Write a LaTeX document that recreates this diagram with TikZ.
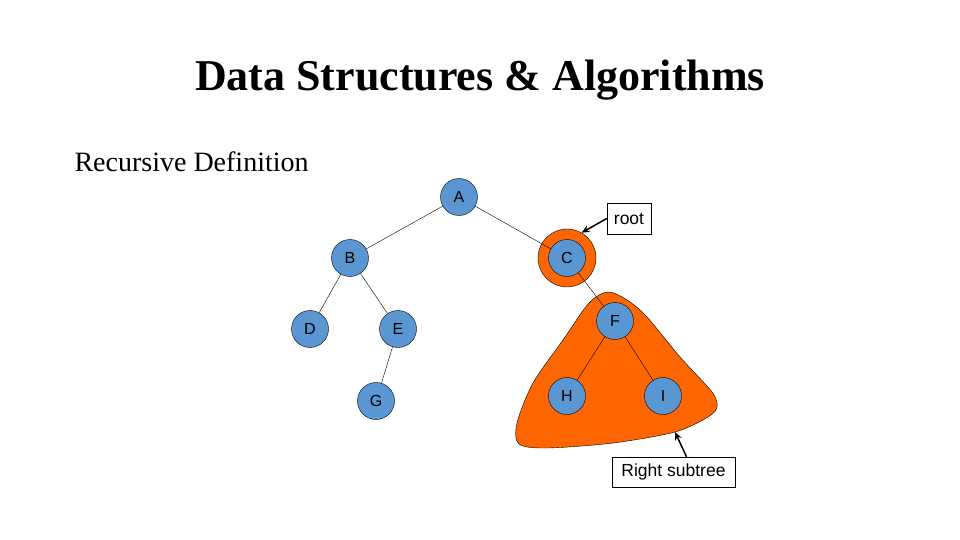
\documentclass[tikz,border=0pt]{standalone}
\usepackage{fontspec}
\setmainfont{Liberation Serif}
\newfontfamily\arial{Liberation Sans}
\usepackage{tikz,xcolor}
\usetikzlibrary{arrows.meta}

\definecolor{nodeblue}{RGB}{90,150,210}
\definecolor{subor}{RGB}{255,102,0}

\begin{document}
\begin{tikzpicture}[x=1pt, y=-1pt,
  vert/.style={draw, circle, fill=nodeblue, minimum size=37pt, inner sep=0pt, font=\arial\fontsize{16}{16}\selectfont},
  callout/.style={draw, fill=white, inner sep=0pt, font=\arial\fontsize{17.5}{18}\selectfont},
  pointer/.style={-{Stealth[length=8pt,width=7pt]}, line width=1.5pt}]

\useasboundingbox (0,0) rectangle (960,540);

% title
\node[font=\bfseries\fontsize{44}{46}\selectfont] (title) at (480,80) {Data Structures \& Algorithms};
\node[anchor=west, font=\fontsize{28}{30}\selectfont] (sub) at (71,162) {Recursive Definition};

% right subtree and root marks
\draw[fill=subor] plot[smooth cycle, tension=0.5] coordinates {(608,292) (627,300) (647,317) (680,357) (712,392) (717,407) (708,417) (675,432) (613,443) (547,448) (519,444) (517,423) (533,383) (563,340) (589,303)};
\node[draw, circle, fill=subor, minimum size=58pt] (ring) at (567,258) {};

% nodes
\node[vert] (A) at (459,197) {A};
\node[vert] (B) at (350,258) {B};
\node[vert] (C) at (567,258) {C};
\node[vert] (D) at (310,329) {D};
\node[vert] (E) at (398,329) {E};
\node[vert] (F) at (615,321) {F};
\node[vert] (G) at (376,401) {G};
\node[vert] (H) at (567,396) {H};
\node[vert] (I) at (663,396) {I};

% edges
\draw (A) -- (B);
\draw (A) -- (C);
\draw (B) -- (D);
\draw (B) -- (E);
\draw (E) -- (G);
\draw (C) -- (F);
\draw (F) -- (H);
\draw (F) -- (I);

% labels
\node[callout, minimum width=44pt, minimum height=31pt] (root) at (629,218.5) {root};
\node[callout, minimum width=123pt, minimum height=30pt] (rsub) at (673.5,472) {Right subtree};
\coordinate (subtip) at (675,432);

\draw[pointer] (root.west) -- (ring.60);
\draw[pointer] ([xshift=13pt]rsub.north) -- (subtip);

\end{tikzpicture}
\end{document}
